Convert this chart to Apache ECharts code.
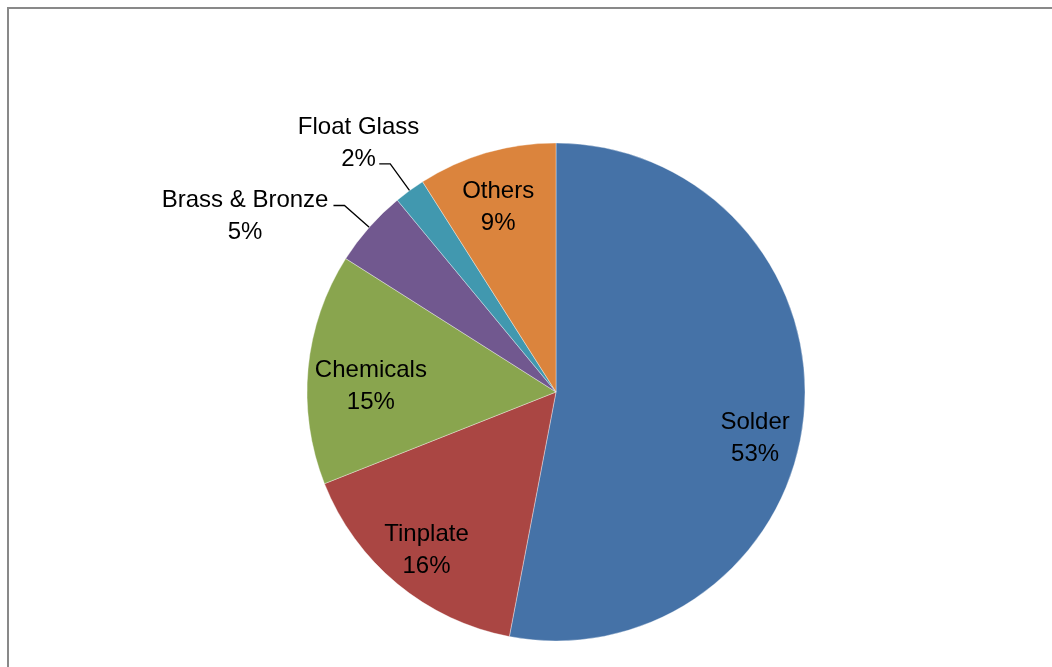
<!DOCTYPE html>
<html>
<head>
<meta charset="utf-8">
<script src="https://cdn.jsdelivr.net/npm/echarts@6/dist/echarts.min.js"></script>
<style>
html,body{margin:0;padding:0;background:#fff;}
#chart{width:1052px;height:667px;}
</style>
</head>
<body>
<div id="chart"></div>
<script>
const categories = ['Solder', 'Tinplate', 'Chemicals', 'Brass & Bronze', 'Float Glass', 'Others'];
const shares = [53, 16, 15, 5, 2, 9];
const colors = ['#4572A7', '#AA4643', '#89A54E', '#71588F', '#4198AF', '#DB843D'];
const outsideLabels = ['Brass & Bronze', 'Float Glass'];

const FONT = 'Liberation Sans, Arial, sans-serif';
const labelPadInside = {
  'Solder': [55, 0, 0, 0],
  'Tinplate': [8, 4, 0, 0],
  'Chemicals': [26, 0, 0, 28],
  'Others': [15, 4, 0, 0]
};
const labelPadOutside = {
  'Brass & Bronze': [0, 0, -22, 0],
  'Float Glass': [-41, -45, 0, 0]
};

const baseLabel = {
  formatter: '{t|{b}}\n{t|{c}%}',
  color: '#000',
  fontFamily: FONT,
  fontSize: 24,
  lineHeight: 32,
  rich: { t: { align: 'center', fontFamily: FONT, fontSize: 24, lineHeight: 32, color: '#000' } }
};

const sliceData = categories.map((name, i) => {
  const isOut = outsideLabels.indexOf(name) >= 0;
  return {
    name: name,
    value: shares[i],
    itemStyle: { color: colors[i] },
    label: isOut ? Object.assign({}, baseLabel, { show: true, position: 'outside', padding: labelPadOutside[name] }) : { show: false },
    labelLine: { show: isOut }
  };
});

const labelData = categories.map((name, i) => {
  const isOut = outsideLabels.indexOf(name) >= 0;
  return {
    name: name,
    value: shares[i],
    label: isOut ? { show: false } : Object.assign({}, baseLabel, { show: true, position: 'inside', padding: labelPadInside[name] })
  };
});

const chart = echarts.init(document.getElementById('chart'), null, { renderer: 'canvas' });
chart.setOption({
  animation: false,
  backgroundColor: '#fff',
  graphic: [{
    type: 'rect',
    shape: { x: 8, y: 8, width: 1100, height: 700 },
    style: { fill: 'none', stroke: '#898989', lineWidth: 2 },
    silent: true,
    z: -10
  }],
  series: [
    {
      type: 'pie',
      center: [556, 392],
      radius: [0, 249],
      startAngle: 90,
      clockwise: true,
      avoidLabelOverlap: false,
      minShowLabelAngle: 0,
      labelLayout: { hideOverlap: false, moveOverlap: null },
      silent: true,
      emphasis: { disabled: true },
      itemStyle: { borderColor: 'rgba(255,255,255,0.6)', borderWidth: 0.6 },
      label: { distanceToLabelLine: 5 },
      labelLine: { length: 33, length2: 11, smooth: false, minTurnAngle: 0, lineStyle: { color: '#000', width: 1.3 } },
      data: sliceData,
      z: 2
    },
    {
      type: 'pie',
      center: [556, 392],
      radius: [145, 249],
      startAngle: 90,
      clockwise: true,
      avoidLabelOverlap: false,
      labelLayout: { hideOverlap: false },
      silent: true,
      emphasis: { disabled: true },
      itemStyle: { color: 'rgba(0,0,0,0)', borderWidth: 0 },
      labelLine: { show: false },
      data: labelData,
      z: 3
    }
  ]
});
</script>
</body>
</html>
